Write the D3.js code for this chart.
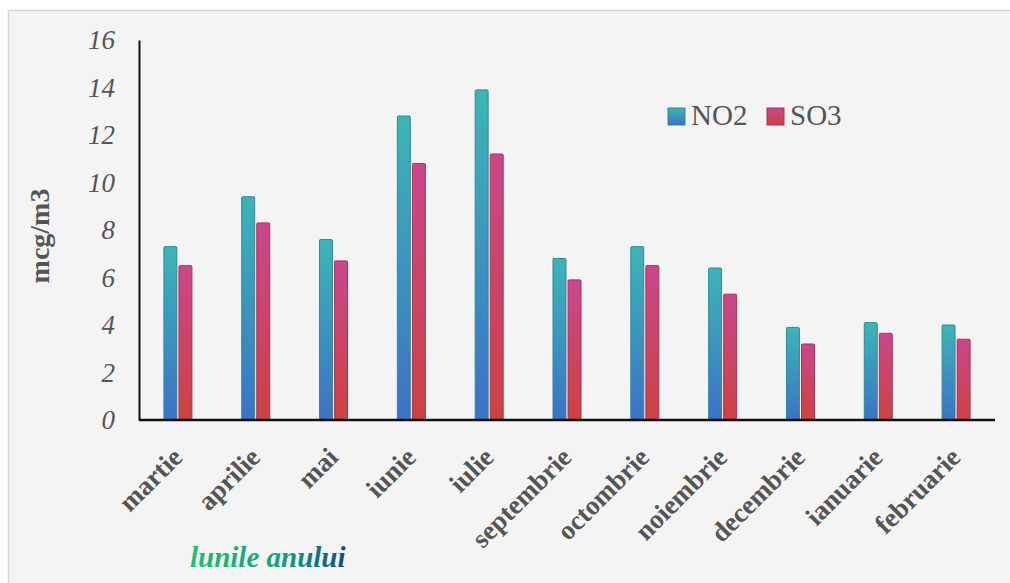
<!DOCTYPE html>
<html><head><meta charset="utf-8">
<script src="https://cdn.jsdelivr.net/npm/d3@7/dist/d3.min.js"></script>
<style>html,body{margin:0;padding:0;background:#fff;}svg{display:block;}</style>
</head><body>
<script>
const categories = ["martie","aprilie","mai","iunie","iulie","septembrie","octombrie","noiembrie","decembrie","ianuarie","februarie"];
const seriesNames = ["NO2","SO3"];
const no2 = [7.3, 9.4, 7.6, 12.8, 13.9, 6.8, 7.3, 6.4, 3.9, 4.1, 4.0];
const so3 = [6.5, 8.3, 6.7, 10.8, 11.2, 5.9, 6.5, 5.3, 3.2, 3.65, 3.4];
const yTicks = [0,2,4,6,8,10,12,14,16];

const FONT = '"Liberation Serif"';
const W = 1010, H = 583;
const svg = d3.select("body").append("svg").attr("width", W).attr("height", H);
const defs = svg.append("defs");
function grad(id, top, bottom){
  const g = defs.append("linearGradient").attr("id", id).attr("x1",0).attr("y1",0).attr("x2",0).attr("y2",1);
  g.append("stop").attr("offset","0%").attr("stop-color",top);
  g.append("stop").attr("offset","100%").attr("stop-color",bottom);
}
grad("gNO2", "#3db5b7", "#3c72c6");
grad("gSO3", "#c9478c", "#cd4240");
const tg = defs.append("linearGradient").attr("id","gTxt").attr("x1",0).attr("y1",0).attr("x2",1).attr("y2",0);
tg.append("stop").attr("offset","0%").attr("stop-color","#20c070");
tg.append("stop").attr("offset","60%").attr("stop-color","#11a080");
tg.append("stop").attr("offset","100%").attr("stop-color","#0e4f80");

// panel
svg.append("rect").attr("x",8.5).attr("y",10.5).attr("width",W).attr("height",H)
  .attr("fill","#f4f4f4").attr("stroke","#d6d6d6").attr("stroke-width",1.5);

const x0 = 139, x1 = 995, yTop = 40, yBot = 420;
const x = d3.scaleBand().domain(categories).range([x0, x1]).padding(0);
const y = d3.scaleLinear().domain([0,16]).range([yBot, yTop]);
const xs = d3.scaleBand().domain(seriesNames).range([0, 28]).paddingInner(0.14);

const data = categories.map((c,i)=>({c, vals:[{s:"NO2",v:no2[i]},{s:"SO3",v:so3[i]}]}));
const gBars = svg.append("g");
data.forEach(d=>{
  const cx = x(d.c) + x.bandwidth()/2 - 14;
  gBars.selectAll(null).data(d.vals).enter().append("rect")
    .attr("x", e=> cx + xs(e.s))
    .attr("y", e=> y(e.v))
    .attr("width", xs.bandwidth())
    .attr("height", e=> y(0)-y(e.v))
    .attr("rx",1)
    .attr("fill", e=> e.s==="NO2" ? "url(#gNO2)" : "url(#gSO3)")
    .attr("stroke", e=> e.s==="NO2" ? "#2f8a92" : "#a8325a")
    .attr("stroke-width",1);
});

// axes
const yAxis = d3.axisLeft(y).tickValues(yTicks).tickSize(0).tickPadding(24);
const ga = svg.append("g").attr("transform",`translate(${x0},0)`).call(yAxis);
ga.attr("font-family",null).attr("font-size",null);
ga.select(".domain").attr("stroke","#111").attr("stroke-width",2);
ga.selectAll("text").style("font-family",FONT)
  .attr("font-style","italic").attr("font-size",27).attr("fill","#555").attr("dy","0.32em");

const xAxis = d3.axisBottom(x).tickSize(0).tickPadding(0);
const gx = svg.append("g").attr("transform",`translate(0,${yBot})`).call(xAxis);
gx.attr("font-family",null).attr("font-size",null);
gx.select(".domain").attr("stroke","#111").attr("stroke-width",2.5).attr("d",`M${x0},0H${x1}`);
gx.selectAll("text").style("font-family",FONT)
  .attr("font-weight","bold").attr("font-size",27).attr("fill","#555")
  .attr("text-anchor","end").attr("dy",null).attr("y",0)
  .attr("transform","translate(6,39) rotate(-45)");

// y label
svg.append("text").attr("transform","translate(49,236) rotate(-90)")
  .attr("text-anchor","middle").style("font-family",FONT)
  .attr("font-weight","bold").attr("font-size",28).attr("fill","#555").text("mcg/m3");

// legend
const leg = svg.append("g");
const legX = [668, 767];
seriesNames.forEach((s,i)=>{
  leg.append("rect").attr("x",legX[i]).attr("y",108).attr("width",17).attr("height",17)
    .attr("fill", s==="NO2" ? "url(#gNO2)" : "url(#gSO3)")
    .attr("stroke", s==="NO2" ? "#2f8a92" : "#a8325a").attr("stroke-width",1);
  leg.append("text").attr("x",legX[i]+23).attr("y",125).style("font-family",FONT)
    .attr("font-size",29).attr("fill","#555").text(s);
});

// x title
svg.append("text").attr("x",190).attr("y",567).style("font-family",FONT)
  .attr("font-style","italic").attr("font-weight","bold").attr("font-size",29)
  .attr("fill","url(#gTxt)").text("lunile anului");
</script>
</body></html>
